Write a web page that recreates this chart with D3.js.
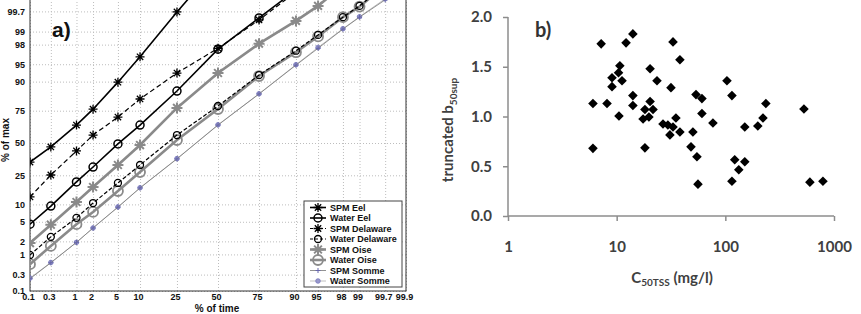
<html>
<head>
<meta charset="utf-8">
<title>Probability plot and scatter</title>
<script src="https://d3js.org/d3.v7.min.js"></script>
<style>
body{margin:0;background:#fff;}
.ta text{font:bold 9px "Liberation Sans",Arial,sans-serif;fill:#111;}
.tb text{font:bold 15px Lato,"Open Sans",sans-serif;fill:#404040;}
</style>
</head>
<body>
<svg width="861" height="314"></svg>
<script>
// ---- panel a data (% of max read at each % of time) ----
var pctTime = [0.1,0.3,1,2,5,10,25,50,75,90,95,98,99,99.7];
var tickPct = [0.1,0.3,1,2,5,10,25,50,75,90,95,98,99,99.7,99.9];
var tickPctLabels = ["0.1","0.3","1","2","5","10","25","50","75","90","95","98","99","99.7","99.9"];
var spmEel = [34.5,46.7,64.6,76.0,89.8,96.4,99.69,99.99];
var waterEel = [4.5,9.4,20.8,30.8,49.2,64.6,86.1,97.5,99.55,99.93];
var spmDelaware = [13.0,25.2,43.4,56.6,70.6,82.1,92.8,97.6,99.49,99.92];
var waterDelaware = [0.97,2.5,5.9,10.5,20.2,32.3,56.6,78.0,92.2,97.3,98.8,99.57,99.79,99.95];
var spmOise = [1.83,4.4,10.9,17.9,32.3,48.3,76.8,92.8,98.1,99.46,99.79,99.95];
var waterOise = [0.57,1.58,4.5,7.5,15.8,27.2,52.5,76.1,91.9,97.1,98.7,99.57,99.78,99.95];
var spmSomme = [0.23,0.62,1.9,3.8,9.0,17.4,37.0,64.6,84.7,94.8,97.6,99.13,99.57,99.86];
var waterSomme = [0.24,0.63,1.9,3.8,9.1,17.5,37.2,64.8,84.8,94.9,97.7,99.15,99.58,99.87];
var seriesNames = ["SPM Eel","Water Eel","SPM Delaware","Water Delaware","SPM Oise","Water Oise","SPM Somme","Water Somme"];

// ---- panel b data ----
var c50tss = [7.2,14.1,12.2,6.05,8.15,10.5,6.05,9.06,9.06,10.7,10.4,11.2,14.1,14.1,33,38.2,20.3,23.5,31.6,103.5,115,20.3,21.6,18.2,19.8,17.5,53.7,60.9,60.9,76.9,236,529,222,199,151,35.1,26.7,29.6,33,30.9,38.2,50.3,48.3,18.2,54.8,122,151,133,56,115,600,791];
var b50sup = [1.73,1.83,1.74,1.13,1.13,1.005,0.68,1.39,1.30,1.51,1.44,1.36,1.21,1.11,1.75,1.57,1.48,1.36,1.29,1.36,1.21,1.15,1.07,1.07,0.995,0.975,1.22,1.18,1.03,0.935,1.13,1.075,0.985,0.905,0.895,0.985,0.925,0.915,0.895,0.815,0.845,0.845,0.695,0.685,0.595,0.565,0.545,0.465,0.32,0.35,0.34,0.35];
var bYTicks = [0,0.5,1,1.5,2];
var bXTicks = [1,10,100,1000];

// inverse normal cdf (Acklam) for the probability axes
function probit(p){
  var a=[-3.969683028665376e+01,2.209460984245205e+02,-2.759285104469687e+02,1.383577518672690e+02,-3.066479806614716e+01,2.506628277459239e+00];
  var b=[-5.447609879822406e+01,1.615858368580409e+02,-1.556989798598866e+02,6.680131188771972e+01,-1.328068155288572e+01];
  var c=[-7.784894002430293e-03,-3.223964580411365e-01,-2.400758277161838e+00,-2.549732539343734e+00,4.374664141464968e+00,2.938163982698783e+00];
  var d=[7.784695709041462e-03,3.224671290700398e-01,2.445134137142996e+00,3.754408661907416e+00];
  var q,r;
  if(p<0.02425){q=Math.sqrt(-2*Math.log(p));return (((((c[0]*q+c[1])*q+c[2])*q+c[3])*q+c[4])*q+c[5])/((((d[0]*q+d[1])*q+d[2])*q+d[3])*q+1);}
  if(p<=1-0.02425){q=p-0.5;r=q*q;return (((((a[0]*r+a[1])*r+a[2])*r+a[3])*r+a[4])*r+a[5])*q/(((((b[0]*r+b[1])*r+b[2])*r+b[3])*r+b[4])*r+1);}
  q=Math.sqrt(-2*Math.log(1-p));return -(((((c[0]*q+c[1])*q+c[2])*q+c[3])*q+c[4])*q+c[5])/((((d[0]*q+d[1])*q+d[2])*q+d[3])*q+1);
}

var svg = d3.select("svg");
svg.append("rect").attr("width",861).attr("height",314).attr("fill","#fff");

// ================= panel a =================
var aL=30, aR=406, aT=-5, aB=291;
var zMin=probit(0.001), zMax=probit(0.999);
var xA = d3.scaleLinear().domain([zMin,zMax]).range([aL,aR]);
var yA = d3.scaleLinear().domain([zMin,zMax]).range([aB,aT]);
var px = p=>xA(probit(p/100)), py = p=>yA(probit(p/100));
var tickZ = tickPct.map(t=>probit(t/100));

var ga = svg.append("g");
ga.append("defs").append("clipPath").attr("id","clipA")
  .append("rect").attr("x",aL).attr("y",aT).attr("width",aR-aL).attr("height",aB-aT);

// grid
ga.append("g").attr("transform","translate(0,"+aB+")")
  .call(d3.axisBottom(xA).tickValues(tickZ).tickSize(-(aB-aT)).tickFormat(""))
  .call(g=>g.select(".domain").remove())
  .selectAll("line").attr("stroke","#bdbdbd").attr("stroke-dasharray","1,2");
ga.append("g").attr("transform","translate("+aL+",0)")
  .call(d3.axisLeft(yA).tickValues(tickZ.slice(0,14)).tickSize(-(aR-aL)).tickFormat(""))
  .call(g=>g.select(".domain").remove())
  .selectAll("line").attr("stroke","#bdbdbd").attr("stroke-dasharray","1,2");

// axes labels
ga.append("g").attr("class","ta").attr("transform","translate(0,"+aB+")")
  .call(d3.axisBottom(xA).tickValues(tickZ).tickSize(0).tickPadding(3).tickFormat((d,i)=>tickPctLabels[i]))
  .call(g=>g.select(".domain").remove())
  .selectAll("text").attr("dx",-2);
ga.append("g").attr("class","ta").attr("transform","translate("+aL+",0)")
  .call(d3.axisLeft(yA).tickValues(tickZ.slice(0,14)).tickSize(0).tickPadding(5).tickFormat((d,i)=>tickPctLabels[i]))
  .call(g=>g.select(".domain").remove());

ga.append("rect").attr("x",aL).attr("y",aT).attr("width",aR-aL).attr("height",aB-aT)
  .attr("fill","none").attr("stroke","#333").attr("stroke-width",1);

ga.append("text").attr("transform","translate(9,140) rotate(-90)").attr("text-anchor","middle")
  .style("font",'bold 10px "Liberation Sans",Arial,sans-serif').attr("fill","#111").text("% of max");
ga.append("text").attr("x",217).attr("y",312).attr("text-anchor","middle")
  .style("font",'bold 10px "Liberation Sans",Arial,sans-serif').attr("fill","#111").text("% of time");
ga.append("text").attr("x",52).attr("y",37)
  .style("font",'bold 21px "Liberation Sans",Arial,sans-serif').attr("fill","#111").text("a)");

function starPath(r){
  var k=r*0.7071;
  return "M"+(-r)+",0L"+r+",0M0,"+(-r)+"L0,"+r+"M"+(-k)+","+(-k)+"L"+k+","+k+"M"+(-k)+","+k+"L"+k+","+(-k);
}
function plusPath(r){return "M"+(-r)+",0L"+r+",0M0,"+(-r)+"L0,"+r;}

var styles = [
  {vals:spmEel, stroke:"#000", w:1.6, dash:null, mk:"star", r:4.5, mc:"#000", mw:1.3},
  {vals:waterEel, stroke:"#000", w:1.6, dash:null, mk:"circle", r:4, mc:"#000", mw:1.5},
  {vals:spmDelaware, stroke:"#000", w:1.2, dash:"5,3", mk:"star", r:4.5, mc:"#000", mw:1.3},
  {vals:waterDelaware, stroke:"#000", w:1.2, dash:"4,2", mk:"circle", r:3.5, mc:"#000", mw:1.3},
  {vals:spmOise, stroke:"#8a8a8a", w:2.6, dash:null, mk:"star", r:5.5, mc:"#8a8a8a", mw:2},
  {vals:waterOise, stroke:"#8a8a8a", w:2.6, dash:null, mk:"circle", r:5, mc:"#8a8a8a", mw:1.8},
  {vals:spmSomme, stroke:"#777", w:0.8, dash:null, mk:"plus", r:2.5, mc:"#6666aa", mw:1},
  {vals:waterSomme, stroke:"#b0b0b0", w:0.8, dash:null, mk:"circle", r:2.3, mc:"#7777bb", mw:0.8, fill:"#9999cc"}
];

var line = d3.line().x((d,i)=>px(pctTime[i])).y(d=>py(d));
var plotG = ga.append("g").attr("clip-path","url(#clipA)");
styles.slice().reverse().forEach(function(s){
  plotG.append("path").attr("d",line(s.vals)).attr("fill","none")
    .attr("stroke",s.stroke).attr("stroke-width",s.w).attr("stroke-dasharray",s.dash);
  var m = plotG.selectAll(null).data(s.vals).enter().append("g")
    .attr("transform",(d,i)=>"translate("+px(pctTime[i])+","+py(d)+")");
  drawMarker(m,s);
});

function drawMarker(sel,s){
  if(s.mk=="circle") sel.append("circle").attr("r",s.r).attr("fill",s.fill||"none").attr("stroke",s.mc).attr("stroke-width",s.mw);
  else sel.append("path").attr("d",s.mk=="star"?starPath(s.r):plusPath(s.r)).attr("stroke",s.mc).attr("stroke-width",s.mw);
}

// legend
var lg = ga.append("g").attr("transform","translate(304,201)");
lg.append("rect").attr("width",98).attr("height",86).attr("fill","#fff").attr("stroke","#444").attr("stroke-width",1);
var rows = lg.selectAll(".row").data(styles).enter().append("g")
  .attr("transform",(d,i)=>"translate(0,"+(6.5+i*10.5)+")");
rows.append("line").attr("x1",6).attr("x2",22).attr("stroke",d=>d.stroke).attr("stroke-width",d=>d.w)
  .attr("stroke-dasharray",d=>d.dash?"3,2":null);
rows.each(function(d){ drawMarker(d3.select(this).append("g").attr("transform","translate(14,0)"),d); });
rows.append("text").attr("x",26).attr("dy","0.35em")
  .style("font",'bold 9px "Liberation Sans",Arial,sans-serif').attr("fill","#111")
  .text((d,i)=>seriesNames[i]);

// ================= panel b =================
var bL=508, bR=834, bT=17, bB=216;
var xB = d3.scaleLog().domain([1,1000]).range([bL,bR]);
var yB = d3.scaleLinear().domain([0,2]).range([bB,bT]);
var gb = svg.append("g");

gb.append("g").attr("class","tb").attr("transform","translate(0,"+bB+")")
  .call(d3.axisBottom(xB).tickValues(bXTicks).tickSize(5).tickPadding(20).tickFormat(d3.format("d")))
  .call(g=>g.select(".domain").attr("stroke","#8c8c8c").attr("stroke-width",1.5).attr("d","M"+bL+",0H"+bR))
  .call(g=>g.selectAll("line").attr("stroke","#8c8c8c").attr("stroke-width",1.5));
gb.append("g").attr("class","tb").attr("transform","translate("+bL+",0)")
  .call(d3.axisLeft(yB).tickValues(bYTicks).tickSize(5).tickPadding(11).tickFormat(d3.format(".1f")))
  .call(g=>g.select(".domain").attr("stroke","#8c8c8c").attr("stroke-width",1.5).attr("d","M0,"+bB+"V"+bT))
  .call(g=>g.selectAll("line").attr("stroke","#8c8c8c").attr("stroke-width",1.5));

gb.selectAll(".pt").data(c50tss).enter().append("path").attr("class","pt")
  .attr("d",d3.symbol().type(d3.symbolSquare).size(46))
  .attr("transform",(d,i)=>"translate("+xB(d)+","+yB(b50sup[i])+") rotate(45)")
  .attr("fill","#000");

var yt = gb.append("text").attr("transform","translate(453,130) rotate(-90)").attr("text-anchor","middle")
  .style("font",'bold 15px Lato,"Open Sans",sans-serif').attr("fill","#404040");
yt.append("tspan").text("truncated b");
yt.append("tspan").attr("dy",4).style("font-size","10px").text("50sup");

var xt = gb.append("text").attr("x",672).attr("y",283).attr("text-anchor","middle")
  .style("font",'bold 15px Lato,"Open Sans",sans-serif').attr("fill","#404040");
xt.append("tspan").text("C");
xt.append("tspan").attr("dy",3).style("font-size","10px").text("50TSS");
xt.append("tspan").attr("dy",-3).text(" (mg/l)");

gb.append("text").attr("x",535).attr("y",37)
  .style("font",'bold 20px Lato,"Open Sans",sans-serif').attr("fill","#333").text("b)");
</script>
</body>
</html>
